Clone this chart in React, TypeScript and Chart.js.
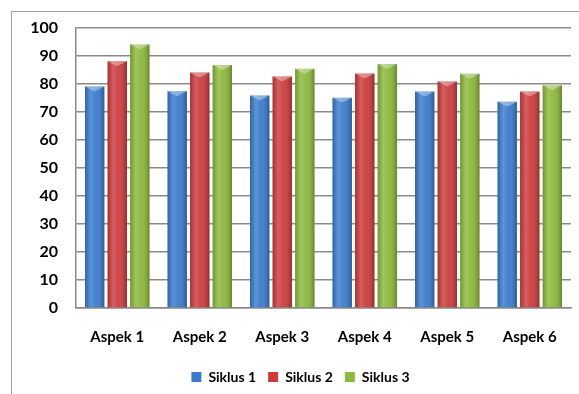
import React, { useEffect, useRef } from "react";
import { Chart, registerables } from "chart.js";

Chart.register(...registerables);

const categories = ["Aspek 1", "Aspek 2", "Aspek 3", "Aspek 4", "Aspek 5", "Aspek 6"];
const siklus1 = [79, 77.3, 75.8, 75, 77.2, 73.6];
const siklus2 = [88, 84, 82.6, 83.6, 80.8, 77.2];
const siklus3 = [94, 86.7, 85.3, 87, 83.5, 79.4];
const seriesNames = ["Siklus 1", "Siklus 2", "Siklus 3"];
const seriesColors = ["#3a7bcc", "#cc3b3c", "#8cb83c"];

const FONT = "Lato, 'Open Sans', sans-serif";

const shadePlugin = {
  id: "cylShade",
  afterLayout(chart: any) {
    const lg = chart.legend;
    if (lg) {
      lg.left += 15;
      lg.right += 15;
    }
  },
  afterDatasetsDraw(chart: any) {
    const ctx = chart.ctx;
    chart.data.datasets.forEach((_: any, di: number) => {
      const meta = chart.getDatasetMeta(di);
      meta.data.forEach((el: any) => {
        const { x, y, base, width } = el.getProps(["x", "y", "base", "width"], true);
        const l = x - width / 2;
        const g = ctx.createLinearGradient(l, 0, l + width, 0);
        g.addColorStop(0, "rgba(0,0,0,0.18)");
        g.addColorStop(0.3, "rgba(255,255,255,0.18)");
        g.addColorStop(0.55, "rgba(255,255,255,0.05)");
        g.addColorStop(1, "rgba(0,0,0,0.28)");
        ctx.save();
        ctx.fillStyle = g;
        ctx.fillRect(l, y, width, base - y);
        ctx.beginPath();
        ctx.moveTo(l, y);
        ctx.lineTo(l + width, y);
        ctx.lineTo(x, y + 5);
        ctx.closePath();
        ctx.fillStyle = "rgba(255,255,255,0.35)";
        ctx.fill();
        ctx.restore();
      });
    });
  },
};

export default function App() {
  const ref = useRef<HTMLCanvasElement>(null);
  useEffect(() => {
    document.body.style.margin = "0";
    const datasets = [siklus1, siklus2, siklus3].map((d, i) => ({
      label: seriesNames[i],
      data: d,
      backgroundColor: seriesColors[i],
      borderWidth: 0,
      categoryPercentage: 0.82,
      barPercentage: 0.86,
    }));
    const chart = new Chart(ref.current!, {
      type: "bar",
      data: { labels: categories, datasets },
      options: {
        animation: false,
        responsive: false,
        maintainAspectRatio: false,
        layout: { padding: { top: 23, right: 8, left: 0, bottom: 0 } },
        plugins: {
          tooltip: { enabled: false },
          legend: {
            position: "bottom",
            labels: {
              boxWidth: 10,
              boxHeight: 10,
              padding: 12,
              color: "#000",
              font: { family: FONT, size: 14, weight: "bold" },
            },
          },
        },
        scales: {
          x: {
            grid: { display: false, drawTicks: false },
            border: { display: true, color: "#8a8a8a", width: 1.5 },
            ticks: {
              color: "#000",
              padding: 20,
              font: { family: FONT, size: 15, weight: "bold" },
            },
            afterFit: (s: any) => { s.height = 50; },
          },
          y: {
            min: 0,
            max: 100,
            ticks: {
              stepSize: 10,
              color: "#000",
              padding: 18,
              font: { family: FONT, size: 16, weight: "bold" },
            },
            grid: { color: "#8a8a8a", lineWidth: 1.5, drawTicks: false },
            border: { display: true, color: "#8a8a8a", width: 1.5 },
            afterFit: (s: any) => { s.width = 76; },
          },
        },
      },
      plugins: [shadePlugin],
    });
    return () => chart.destroy();
  }, []);
  return (
    <div style={{ position: "relative", width: 579, height: 394 }}>
      <div
        style={{
          position: "absolute",
          left: 11,
          top: 11,
          right: 0,
          bottom: 0,
          borderLeft: "1.5px solid #a0a0a0",
          borderTop: "1.5px solid #a0a0a0",
        }}
      />
      <canvas ref={ref} width={579} height={394} style={{ position: "absolute", left: 0, top: 0 }} />
    </div>
  );
}
